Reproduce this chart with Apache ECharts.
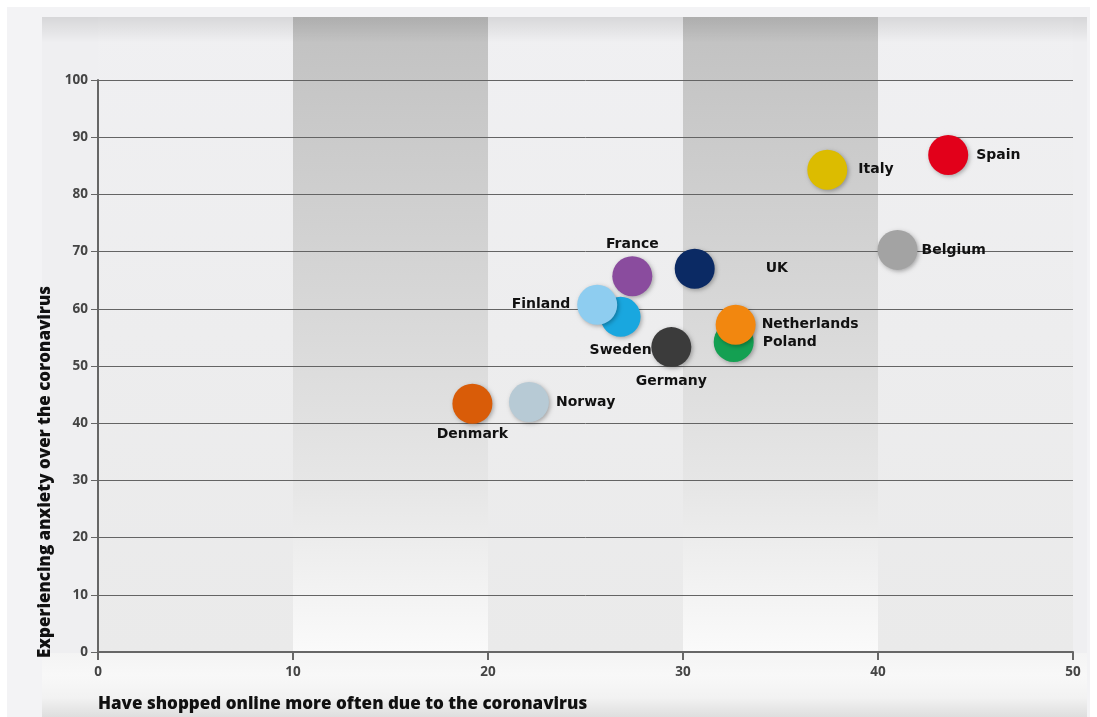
<!DOCTYPE html>
<html>
<head>
<meta charset="utf-8">
<script src="https://cdn.jsdelivr.net/npm/echarts@6/dist/echarts.min.js"></script>
<style>html,body{margin:0;padding:0;background:#fff}#c{width:1097px;height:717px}</style>
</head>
<body>
<div id="c"></div>
<script>
// ---- data ----
const countries = ['Spain','Italy','Belgium','UK','France','Sweden','Finland','Poland','Netherlands','Germany','Norway','Denmark'];
const shoppedOnline = [43.6, 37.4, 41.0, 30.6, 27.4, 26.8, 25.6, 32.6, 32.7, 29.4, 22.1, 19.2];
const anxiety =       [86.9, 84.3, 70.3, 67.0, 65.7, 58.6, 60.7, 54.2, 57.2, 53.3, 43.7, 43.4];
const xTicks = [0, 10, 20, 30, 40, 50];
const yTicks = [0, 10, 20, 30, 40, 50, 60, 70, 80, 90, 100];
const xTitle = 'Have shopped online more often due to the coronavirus';
const yTitle = 'Experiencing anxiety over the coronavirus';

// ---- styles ----
const colors = {
  Spain:'#e2001a', Italy:'#dcbc00', Belgium:'#a3a3a3', UK:'#0b2a64', France:'#8a4c9e',
  Sweden:'#19a7df', Finland:'#8ecdf0', Poland:'#14a052', Netherlands:'#f2870f',
  Germany:'#3b3b3b', Norway:'#b7cad5', Denmark:'#d95c08'
};
const labelCfg = {
  Spain:{position:'right', distance:8, offset:[0,-7]},
  Italy:{position:'right', distance:11, offset:[0,2]},
  Belgium:{position:'right', distance:4, offset:[0,-8]},
  UK:{position:'right', distance:51, offset:[0,1]},
  France:{position:'top', distance:5, offset:[0,0]},
  Sweden:{position:'bottom', distance:7, offset:[-18,0]},
  Finland:{position:'left', distance:7, offset:[0,-8]},
  Poland:{position:'right', distance:9, offset:[0,3]},
  Netherlands:{position:'right', distance:6, offset:[0,-1]},
  Germany:{position:'bottom', distance:7, offset:[0,0]},
  Norway:{position:'right', distance:7, offset:[0,0]},
  Denmark:{position:'bottom', distance:4, offset:[0,0]}
};

const chart = echarts.init(document.getElementById('c'));

const darkBand = {type:'linear', x:0, y:0, x2:0, y2:1, colorStops:[
  {offset:0, color:'#c1c1c1'}, {offset:0.45, color:'#d7d7d7'}, {offset:0.75, color:'#e7e7e7'}, {offset:1, color:'#fafafa'}]};
const lightBand = {type:'linear', x:0, y:0, x2:0, y2:1, colorStops:[
  {offset:0, color:'#f0f0f2'}, {offset:1, color:'#eaeaea'}]};

const bands = [];
for (let i = 0; i < xTicks.length - 1; i++) {
  bands.push([{xAxis: xTicks[i], itemStyle:{color: (i % 2 === 1) ? darkBand : lightBand}}, {xAxis: xTicks[i+1]}]);
}

const data = countries.map((c, i) => ({
  name: c,
  value: [shoppedOnline[i], anxiety[i]],
  itemStyle: {color: colors[c]},
  label: {
    show: true, formatter: c,
    position: labelCfg[c].position, distance: labelCfg[c].distance, offset: labelCfg[c].offset
  }
}));

const option = {
  animation: false,
  backgroundColor: '#ffffff',
  graphic: [
    {type:'rect', z:-10, shape:{x:7, y:7, width:1083, height:710}, style:{fill:'#f3f3f5'}},
    {type:'rect', z:-9, shape:{x:42, y:17, width:1045, height:700}, style:{fill:'#efeff1'}},
    {type:'rect', z:-9, shape:{x:42, y:653, width:1045, height:64}, style:{fill:{type:'linear',x:0,y:0,x2:0,y2:1,colorStops:[{offset:0,color:'#f4f4f4'},{offset:0.35,color:'#f8f8f8'},{offset:0.7,color:'#f2f2f2'},{offset:1,color:'#dedede'}]}}},
    {type:'rect', z:10, silent:true, shape:{x:42, y:17, width:1045, height:26}, style:{fill:{type:'linear',x:0,y:0,x2:0,y2:1,colorStops:[{offset:0,color:'rgba(0,0,0,0.10)'},{offset:1,color:'rgba(0,0,0,0)'}]}}}
  ],
  grid: [
    {left:98, right:24, top:80, bottom:65, containLabel:false},
    {left:98, right:24, top:17, bottom:65, containLabel:false}
  ],
  xAxis: [
    {
      gridIndex:0, type:'value', min:0, max:50, interval:10, z:3,
      name: xTitle, nameLocation:'start', nameGap:0,
      nameTextStyle:{fontFamily:'Open Sans', fontWeight:800, fontSize:17, color:'#111', align:'left', verticalAlign:'top', padding:[44,0,0,0]},
      axisLine:{show:true, lineStyle:{color:'#666', width:2}},
      axisTick:{show:true, length:8, lineStyle:{color:'#666', width:2}},
      axisLabel:{margin:13, fontFamily:'Open Sans', fontWeight:700, fontSize:13.5, color:'#444'},
      splitLine:{show:false}
    },
    {gridIndex:1, type:'value', min:0, max:50, show:false}
  ],
  yAxis: [
    {
      gridIndex:0, type:'value', min:0, max:100, interval:10, z:3,
      name: yTitle, nameLocation:'middle', nameGap:35, nameRotate:90,
      nameTextStyle:{fontFamily:'Open Sans', fontWeight:800, fontSize:17, color:'#111', padding:[0,212,0,0]},
      axisLine:{show:true, lineStyle:{color:'#666', width:2}},
      axisTick:{show:true, length:7, lineStyle:{color:'#666', width:1}},
      axisLabel:{margin:10, fontFamily:'Open Sans', fontWeight:700, fontSize:13.5, color:'#444'},
      splitLine:{show:true, lineStyle:{color:'#646464', width:1}}
    },
    {gridIndex:1, type:'value', min:0, max:1, show:false}
  ],
  series: [
    {
      type:'scatter', xAxisIndex:1, yAxisIndex:1, data:[], silent:true, z:1,
      markArea:{silent:true, data: bands}
    },
    {
      type:'scatter', xAxisIndex:0, yAxisIndex:0, z:5,
      symbol:'circle', symbolSize:40,
      itemStyle:{opacity:1, shadowBlur:4, shadowColor:'rgba(0,0,0,0.3)', shadowOffsetX:1.5, shadowOffsetY:1.5},
      label:{fontFamily:'DejaVu Sans', fontWeight:'bold', fontSize:14, color:'#111'},
      labelLayout:{hideOverlap:false},
      emphasis:{disabled:true},
      data: data
    }
  ]
};
chart.setOption(option);
</script>
</body>
</html>
